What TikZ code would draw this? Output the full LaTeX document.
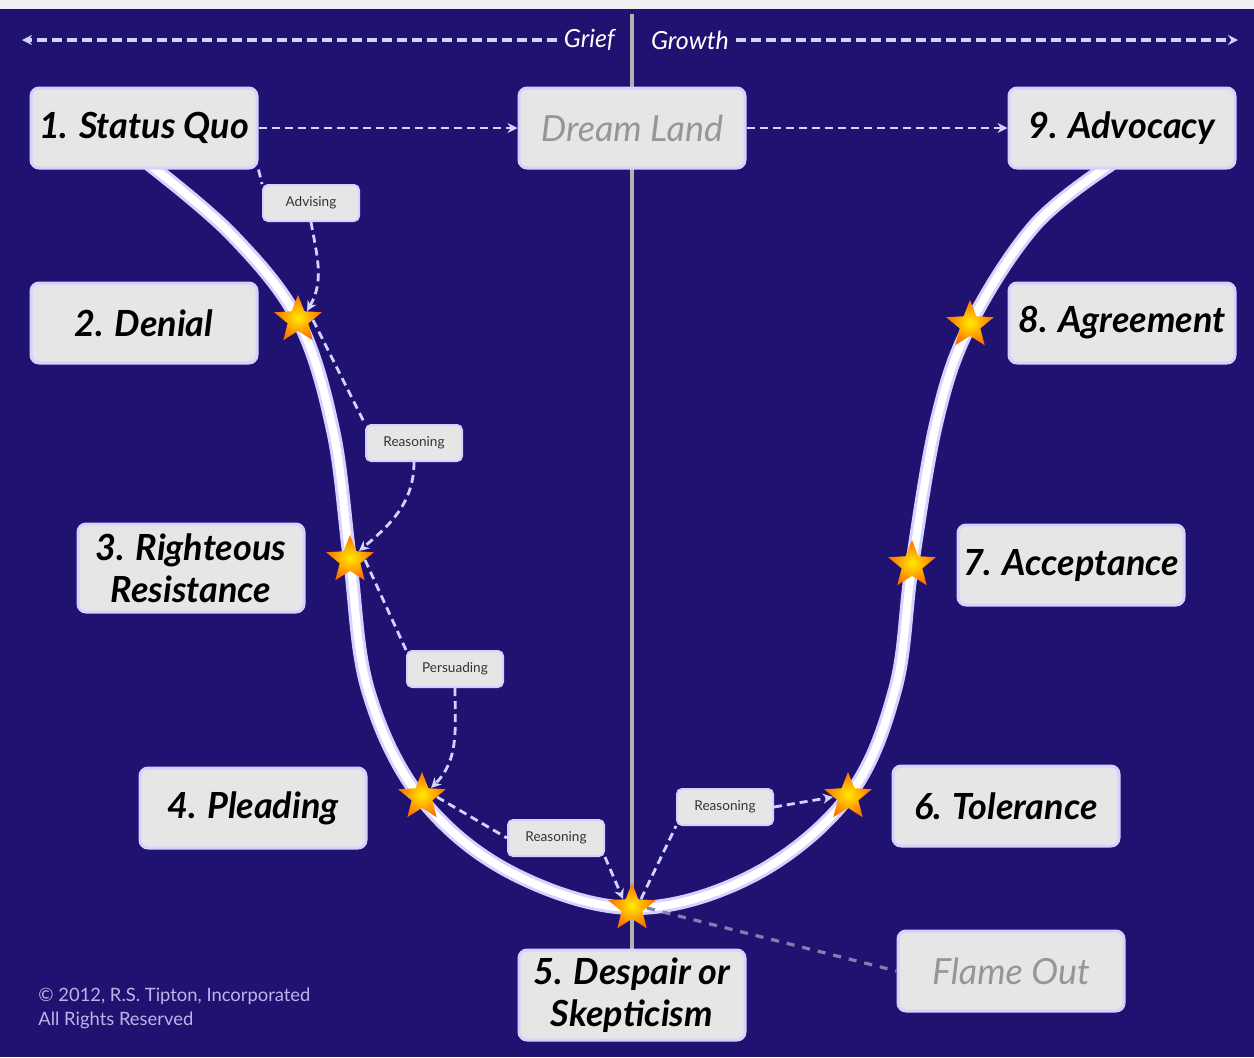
\documentclass[tikz,border=0pt]{standalone}
\usepackage{fontspec}
\setmainfont{Lato}
\usetikzlibrary{shapes.geometric,arrows.meta}
\definecolor{navy}{RGB}{32,18,112}
\definecolor{lav}{RGB}{214,210,255}
\definecolor{boxgray}{RGB}{230,230,230}
\definecolor{graytxt}{RGB}{150,150,150}
\tikzset{
  stage/.style={draw=lav, fill=boxgray, line width=1.5pt, rounded corners=4pt,
    minimum width=113pt, minimum height=40pt, inner sep=1pt, align=center,
    font=\fontsize{18}{21}\selectfont\bfseries\itshape, text=black},
  ghost/.style={stage, font=\fontsize{18}{21}\selectfont\itshape, text=graytxt},
  tag/.style={draw=lav, fill=boxgray, line width=1pt, rounded corners=2.5pt,
    minimum width=48pt, minimum height=18pt, inner sep=1pt,
    font=\fontsize{6.8}{7}\selectfont, text=black!80},
  starnode/.style={star, star points=5, star point ratio=2.3, minimum size=25pt,
    inner sep=0pt, shading=radial, inner color=yellow!85!orange, outer color=orange!85!red},
  flow/.style={draw=lav, line width=1.4pt, dash pattern=on 4pt off 2.5pt, -{Stealth[length=5pt,width=5pt]}},
  flowplain/.style={draw=lav, line width=1.4pt, dash pattern=on 4pt off 2.5pt},
  dimflow/.style={draw=navy!55!white, line width=1.6pt, dash pattern=on 4pt off 4pt},
  topflow/.style={draw=lav, line width=1.6pt, dash pattern=on 5pt off 2.5pt, -{Stealth[length=5pt,width=5pt]}},
  hdr/.style={font=\fontsize{12.5}{14}\selectfont\itshape, text=white},
}
\begin{document}
\begin{tikzpicture}[x=0.5pt,y=-0.5pt]
\useasboundingbox (0,0) rectangle (1254,1057);
\fill[navy] (0,0) rectangle (1254,1057);
\fill[black!6] (0,0) rectangle (1254,9);

% vertical divider
\coordinate (vtop) at (632,14);
\coordinate (vbot) at (632,952);
\draw[black!30, line width=1.6pt] (vtop) -- (vbot);

% top arrows
\node[hdr, anchor=east] (grief) at (622,40) {Grief};
\node[hdr, anchor=west] (growth) at (644,40) {Growth};
\coordinate (tl) at (22,40);
\coordinate (tr) at (1238,40);
\draw[topflow] (grief.west) -- (tl);
\draw[topflow] (growth.east) -- (tr);

% U curve
\def\ucurve{(150,165) (232,235) (298,320) (333,430) (350,560) (368,690) (420,797) (510,872) (632,908)
 (752,876) (848,797) (895,690) (912,565) (937,420) (970,325) (1035,225) (1110,165)}
\draw[lav, line width=7pt, line cap=round] plot[smooth, tension=0.6] coordinates {\ucurve};
\draw[white, line width=4pt, line cap=round] plot[smooth, tension=0.6] coordinates {\ucurve};

% stage boxes
\node[stage] (sq) at (144,128) {1. Status Quo};
\node[ghost] (dl) at (632,128) {Dream Land};
\node[stage] (adv) at (1122,128) {9. Advocacy};
\node[stage] (den) at (144,323) {2. Denial};
\node[stage] (agr) at (1122,323) {8. Agreement};
\node[stage, minimum height=44pt] (rr) at (191,568) {3. Righteous\\Resistance};
\node[stage] (acc) at (1071,565) {7. Acceptance};
\node[stage] (ple) at (253,808) {4. Pleading};
\node[stage] (tol) at (1006,806) {6. Tolerance};
\node[stage, minimum height=45pt] (des) at (632,995) {5. Despair or\\Skepticism};
\node[ghost] (fo) at (1011,971) {Flame Out};

% small tags
\node[tag] (t1) at (311,203) {Advising};
\node[tag] (t2) at (414,443) {Reasoning};
\node[tag] (t3) at (455,669) {Persuading};
\node[tag] (t4) at (556,838) {Reasoning};
\node[tag] (t5) at (725,807) {Reasoning};

% stars
\node[starnode] (s2) at (298,320) {};
\node[starnode] (s3) at (350,560) {};
\node[starnode] (s4) at (422,797) {};
\node[starnode] (s5) at (632,908) {};
\node[starnode] (s6) at (848,797) {};
\node[starnode] (s7) at (912,565) {};
\node[starnode] (s8) at (970,325) {};

% top row connectors
\draw[flow] (sq.east) -- (dl.west);
\draw[flow] (dl.east) -- (adv.west);

% left descent connectors
\draw[flowplain] (sq.south east) -- (t1.north west);
\draw[flow] (t1.south) to[out=-80,in=60] (s2.north east);
\draw[flowplain] (s2.east) -- (t2.north west);
\draw[flow] (t2.south) to[out=-90,in=40] (s3.north east);
\draw[flowplain] (s3.east) -- (t3.north west);
\draw[flow] (t3.south) to[out=-90,in=45] (s4.north east);
\draw[flowplain] (s4.east) -- (t4.west);
\draw[flow] (t4.south east) -- (s5.north west);
% right ascent connectors
\draw[flowplain] (s5.north east) -- (t5.south west);
\draw[flow] (t5.east) -- (s6.west);
% flame out
\draw[dimflow] (s5.east) -- (fo.west);

% copyright
\node[anchor=north west, align=left, text=lav!85!navy, font=\fontsize{9.2}{12}\selectfont, inner sep=0pt] (copy) at (38,988)
 {© 2012, R.S. Tipton, Incorporated\\All Rights Reserved};
\end{tikzpicture}
\end{document}
